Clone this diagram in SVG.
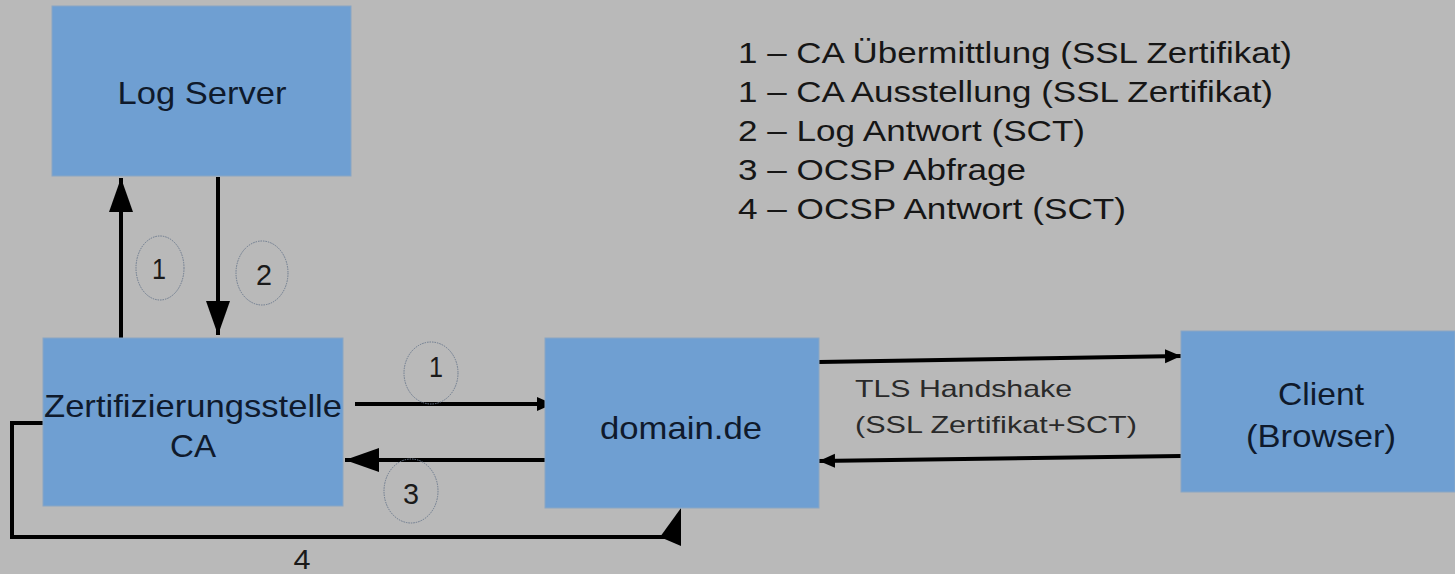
<svg xmlns="http://www.w3.org/2000/svg" width="1455" height="574" viewBox="0 0 1455 574">
<defs>
<style>
.box{fill:#6f9fd2;stroke:#8aa6c4;stroke-width:1}
.lbl{font-family:"Liberation Sans",Arial,sans-serif;font-size:32px;fill:#0f1a2c;text-anchor:middle}
.leg{font-family:"Liberation Sans",Arial,sans-serif;font-size:30px;fill:#161616}
.small{font-family:"Liberation Sans",Arial,sans-serif;font-size:24px;fill:#2a2a2a}
.num{font-family:"Liberation Sans",Arial,sans-serif;font-size:30px;fill:#1a1a1a;text-anchor:middle}
.line{stroke:#000;stroke-width:4;fill:none}
.ell{fill:none;stroke:#6c7a8e;stroke-width:1;stroke-dasharray:1.5 1}
</style>
<marker id="big" markerUnits="userSpaceOnUse" markerWidth="36" markerHeight="24" refX="34" refY="12" orient="auto"><path d="M0,0 L34,12 L0,24 Z" fill="#000"/></marker>
<marker id="small" markerUnits="userSpaceOnUse" markerWidth="18" markerHeight="16" refX="16" refY="8" orient="auto"><path d="M0,1 L16,8 L0,15 Z" fill="#000"/></marker>
</defs>
<rect width="1455" height="574" fill="#b9b9b9"/>
<g id="connectors">
<line class="line" x1="121" y1="338" x2="121" y2="178" marker-end="url(#big)"/>
<line class="line" x1="218" y1="177" x2="218" y2="335" marker-end="url(#big)"/>
<line class="line" x1="355" y1="404" x2="553" y2="404" marker-end="url(#small)"/>
<line class="line" x1="545" y1="460" x2="345" y2="460" marker-end="url(#big)"/>
<line class="line" x1="819" y1="362" x2="1181" y2="356" marker-end="url(#small)"/>
<line class="line" x1="1181" y1="456" x2="819" y2="461" marker-end="url(#small)"/>
<polyline class="line" points="43,423 12,423 12,537 668,537"/>
<polygon points="681,508 681,546 660,537" fill="#000"/>
<ellipse class="ell" cx="160" cy="268" rx="24" ry="32"/>
<text class="num" x="159" y="279" textLength="14" lengthAdjust="spacingAndGlyphs">1</text>
<ellipse class="ell" cx="262" cy="273" rx="26" ry="32"/>
<text class="num" x="264" y="285" textLength="16" lengthAdjust="spacingAndGlyphs">2</text>
<ellipse class="ell" cx="431" cy="373" rx="27" ry="31"/>
<text class="num" x="436" y="377" textLength="14" lengthAdjust="spacingAndGlyphs">1</text>
<ellipse class="ell" cx="411" cy="491" rx="27" ry="32"/>
<text class="num" x="411" y="504" textLength="16" lengthAdjust="spacingAndGlyphs">3</text>
<text class="num" x="302" y="569" style="font-size:28px" textLength="17" lengthAdjust="spacingAndGlyphs">4</text>
<text class="small" x="855" y="397" textLength="217" lengthAdjust="spacingAndGlyphs">TLS Handshake</text>
<text class="small" x="855" y="433" textLength="282" lengthAdjust="spacingAndGlyphs">(SSL Zertifikat+SCT)</text>
</g>
<g id="logserver">
<rect class="box" x="52" y="6" width="299" height="170"/>
<text class="lbl" x="202" y="104" textLength="169" lengthAdjust="spacingAndGlyphs">Log Server</text>
</g>
<g id="ca">
<rect class="box" x="43" y="338" width="300" height="168"/>
<text class="lbl" x="193" y="417" textLength="298" lengthAdjust="spacingAndGlyphs">Zertifizierungsstelle</text>
<text class="lbl" x="193" y="457" textLength="46" lengthAdjust="spacingAndGlyphs">CA</text>
</g>
<g id="domain">
<rect class="box" x="545" y="338" width="274" height="170"/>
<text class="lbl" x="681" y="439" textLength="162" lengthAdjust="spacingAndGlyphs">domain.de</text>
</g>
<g id="client">
<rect class="box" x="1181" y="331" width="274" height="161"/>
<text class="lbl" x="1321" y="405" textLength="86" lengthAdjust="spacingAndGlyphs">Client</text>
<text class="lbl" x="1321" y="447" textLength="150" lengthAdjust="spacingAndGlyphs">(Browser)</text>
</g>
<g id="legend">
<text class="leg" x="738" y="63" textLength="554" lengthAdjust="spacingAndGlyphs">1 – CA Übermittlung (SSL Zertifikat)</text>
<text class="leg" x="738" y="102" textLength="535" lengthAdjust="spacingAndGlyphs">1 – CA Ausstellung (SSL Zertifikat)</text>
<text class="leg" x="738" y="141" textLength="347" lengthAdjust="spacingAndGlyphs">2 – Log Antwort (SCT)</text>
<text class="leg" x="738" y="180" textLength="288" lengthAdjust="spacingAndGlyphs">3 – OCSP Abfrage</text>
<text class="leg" x="738" y="219" textLength="388" lengthAdjust="spacingAndGlyphs">4 – OCSP Antwort (SCT)</text>
</g>
</svg>
